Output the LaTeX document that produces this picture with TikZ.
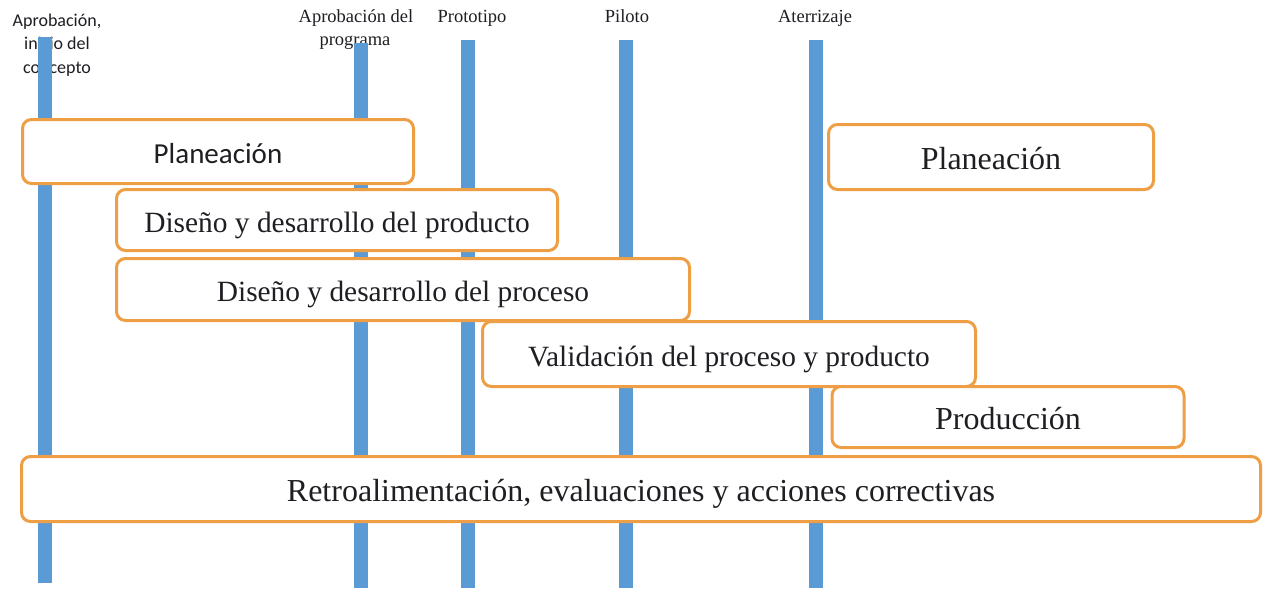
\documentclass[tikz,border=0pt]{standalone}
\usepackage{fontspec}
\newfontfamily\serf{Liberation Serif}
\newfontfamily\sanf{Carlito}
\definecolor{barblue}{RGB}{91,155,213}
\definecolor{boxorange}{RGB}{238,158,68}
\definecolor{inktext}{RGB}{30,30,35}
\tikzset{
  phase/.style={draw=boxorange, line width=3pt, fill=white, rounded corners=9pt,
    inner sep=0pt, text=inktext, align=center, text height=24pt, text depth=0pt},
  barstyle/.style={fill=barblue, draw=none, inner sep=0pt, minimum width=14pt},
  toplabel/.style={anchor=base, inner sep=0pt, text=inktext},
  sanlab/.style={toplabel, font=\sanf\fontsize{18}{22}\selectfont},
  serlab/.style={toplabel, font=\serf\fontsize{18.5}{22}\selectfont},
  bigser/.style={font=\serf\fontsize{29.4}{32}\selectfont},
  hugeser/.style={font=\serf\fontsize{32}{34}\selectfont},
}
\begin{document}
\begin{tikzpicture}[x=1pt,y=-1pt]
\useasboundingbox[fill=white] (0,0) rectangle (1263,590);
% milestone labels
\node[sanlab] (l1a) at (57,26) {Aprobación,};
\node[sanlab] (l1b) at (57,49) {inicio del};
\node[sanlab] (l1c) at (57,73) {concepto};
\node[serlab] (l2a) at (356,22) {Aprobación del};
\node[serlab] (l2b) at (355,45) {programa};
\node[serlab] (l3) at (472,22) {Prototipo};
\node[serlab] (l4) at (627,22) {Piloto};
\node[serlab] (l5) at (815,22) {Aterrizaje};
% milestone bars
\node[barstyle, minimum height=546pt] (bar1) at (45,310) {};
\node[barstyle, minimum height=545pt] (bar2) at (361,315.5) {};
\node[barstyle, minimum height=548pt] (bar3) at (468,314) {};
\node[barstyle, minimum height=548pt] (bar4) at (626,314) {};
\node[barstyle, minimum height=548pt] (bar5) at (816,314) {};
% phases
\node[phase, minimum width=391pt, minimum height=64pt,
      font=\sanf\fontsize{29}{32}\selectfont] (plan1) at (218,151.5) {Planeación};
\node[phase, minimum width=325pt, minimum height=65pt, hugeser] (plan2) at (991,157) {Planeación};
\node[phase, minimum width=441pt, minimum height=61pt, bigser] (prod) at (337,220) {Diseño y desarrollo del producto};
\node[phase, minimum width=573pt, minimum height=62pt, bigser] (proc) at (403,289.5) {Diseño y desarrollo del proceso};
\node[phase, minimum width=493pt, minimum height=65pt, bigser] (valid) at (729,354) {Validación del proceso y producto};
\node[phase, minimum width=352pt, minimum height=61pt, hugeser] (produc) at (1008,417) {Producción};
\node[phase, minimum width=1239pt, minimum height=65pt, hugeser] (retro) at (641,489) {Retroalimentación, evaluaciones y acciones correctivas};
\end{tikzpicture}
\end{document}
